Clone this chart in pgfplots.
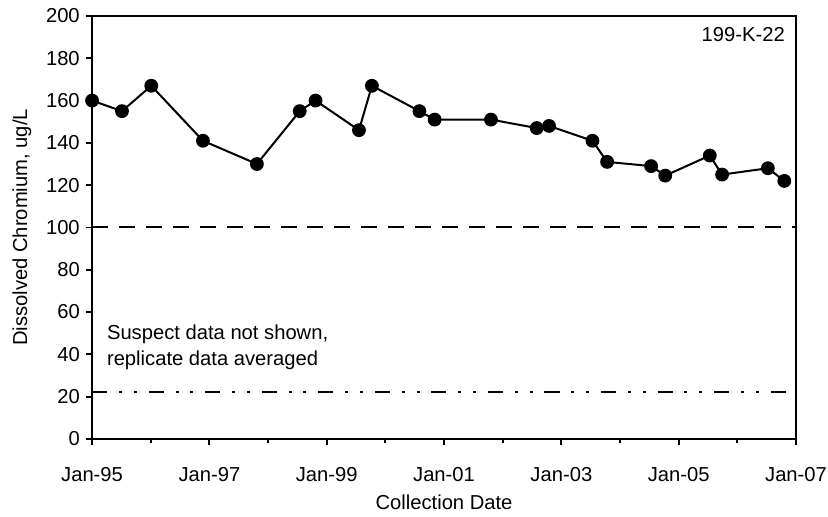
\documentclass[border=0pt]{standalone}
\usepackage{pgfplots}
\pgfplotsset{compat=1.18}
\usepackage{fontspec}
\setmainfont{Liberation Sans}
\begin{document}
\begin{tikzpicture}
\useasboundingbox (-54.7pt,-46.3pt) rectangle (437.3pt,260.8pt);
\begin{axis}[
  scale only axis,
  width=418.3pt, height=251.3pt,
  xmin=1995, xmax=2007, ymin=0, ymax=200,
  xtick={1995,1997,1999,2001,2003,2005,2007},
  xticklabels={Jan-95,Jan-97,Jan-99,Jan-01,Jan-03,Jan-05,Jan-07},
  minor x tick num=1,
  ytick={0,20,...,200},
  xtick pos=bottom, ytick pos=left,
  tick align=outside,
  major tick length=3.8pt, minor tick length=2.6pt,
  every tick/.style={black, line width=1.1pt},
  axis line style={line width=1.2pt},
  /pgf/number format/assume math mode=true,
  tick label style={font=\fontsize{12}{14}\selectfont},
  label style={font=\fontsize{12}{14}\selectfont},
  xticklabel style={anchor=center, yshift=-17.5pt},
  xlabel={Collection Date},
  ylabel={Dissolved Chromium, ug/L},
  xlabel style={at={(axis description cs:0.5,-0.151)}, anchor=center},
  ylabel style={at={(axis description cs:-0.0995,0.5)}, anchor=center},
  clip=false,
]
\addplot[black, line width=1.2pt, mark=*, mark size=3.5pt] coordinates {
(1995.00,160) (1995.51,155) (1996.01,167) (1996.89,141) (1997.81,130)
(1998.54,155) (1998.81,160) (1999.55,146) (1999.77,167) (2000.58,155)
(2000.84,151) (2001.80,151) (2002.58,147) (2002.79,148) (2003.53,141)
(2003.78,131) (2004.53,129) (2004.77,124.5) (2005.53,134) (2005.74,125)
(2006.52,128) (2006.80,122)
};
\addplot[black, line width=1.2pt, dash pattern=on 9.5pt off 6.5pt] coordinates {(1995,100) (2007,100)};
\addplot[black, line width=1.2pt, dash pattern=on 9pt off 7pt on 1.8pt off 7pt on 1.8pt off 7pt] coordinates {(1995,22) (2007,22)};
\node[anchor=north east, font=\fontsize{12}{14}\selectfont, inner sep=0pt] at (rel axis cs:1,1) [xshift=-6.5pt, yshift=-6.5pt] {199-K-22};
\node[anchor=west, align=left, inner sep=0pt, font=\fontsize{12}{15.4}\selectfont] at (rel axis cs:0,0) [xshift=8.7pt, yshift=54.7pt] {Suspect data not shown,\\replicate data averaged};
\end{axis}
\end{tikzpicture}
\end{document}
